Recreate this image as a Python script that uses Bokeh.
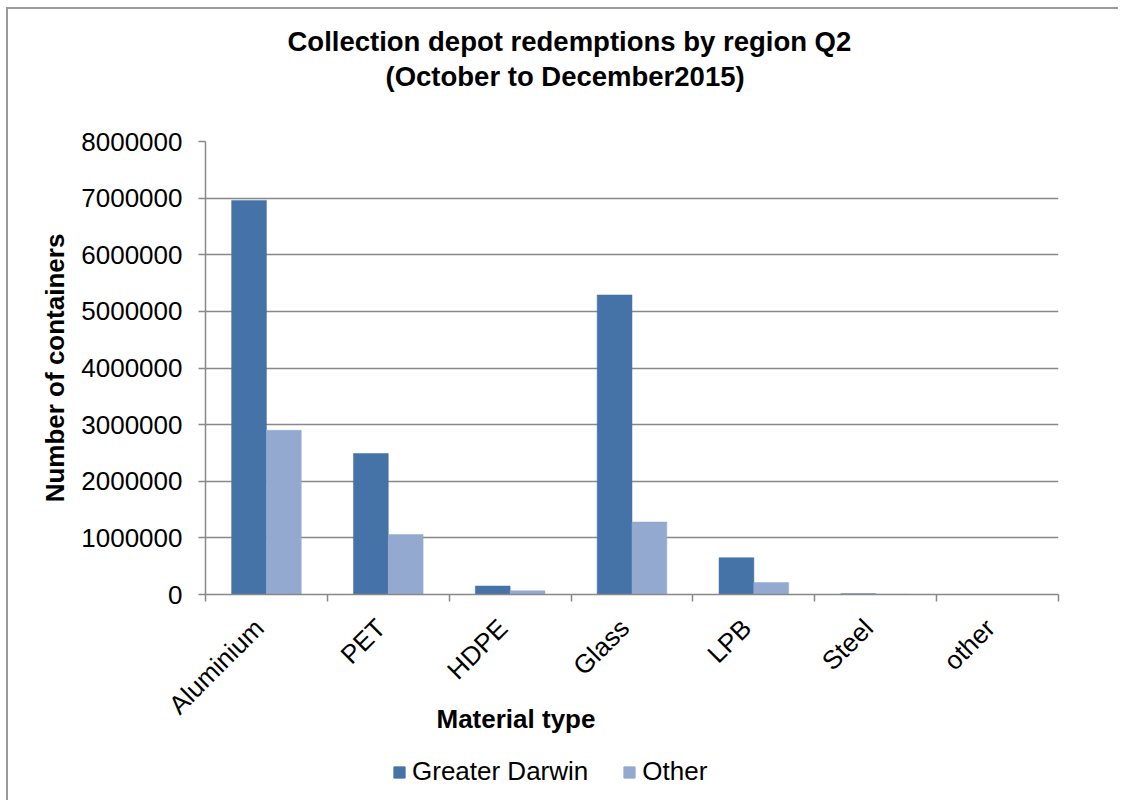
import math
from bokeh.plotting import figure
from bokeh.layouts import column
from bokeh.models import (ColumnDataSource, Range1d, FixedTicker, Title,
                          Legend, LegendItem)
from bokeh.transform import dodge
from bokeh.embed import file_html
from bokeh.resources import INLINE

# ---- data -------------------------------------------------------------
categories = ["Aluminium", "PET", "HDPE", "Glass", "LPB", "Steel", "other"]
greater_darwin = [6960000, 2490000, 150000, 5290000, 650000, 15000, 0]
other_region = [2900000, 1060000, 65000, 1280000, 210000, 4000, 0]
series_names = ["Greater Darwin", "Other"]
y_ticks = [0, 1000000, 2000000, 3000000, 4000000, 5000000, 6000000, 7000000, 8000000]
title_lines = ["Collection depot redemptions by region Q2", "(October to December2015)"]
x_title = "Material type"
y_title = "Number of containers"

# ---- style ------------------------------------------------------------
FONT = "Liberation Sans"
C_GD = "#4572A7"
C_OT = "#93A9CF"
GRID = "#888888"

x_pos = [i + 0.5 for i in range(len(categories))]
label_ticks = [x - 0.06 for x in x_pos]
src = ColumnDataSource(dict(x=x_pos, gd=greater_darwin, ot=other_region))

p = figure(frame_width=853, frame_height=453,
           x_range=Range1d(0, len(categories)), y_range=Range1d(0, y_ticks[-1]),
           output_backend="svg", toolbar_location=None,
           min_border_left=197, min_border_right=60,
           min_border_top=132, min_border_bottom=150)
p.background_fill_color = "white"
p.border_fill_color = "white"
p.outline_line_color = None

bw = 1.0 / 3.5
r1 = p.vbar(x=dodge("x", -bw / 2, range=p.x_range), top="gd", width=bw, source=src,
            fill_color=C_GD, line_color=C_GD, line_width=0.5)
r2 = p.vbar(x=dodge("x", bw / 2, range=p.x_range), top="ot", width=bw, source=src,
            fill_color=C_OT, line_color=C_OT, line_width=0.5)

# x axis: labels near centres, tick marks at category boundaries
xa = p.xaxis[0]
xa.ticker = FixedTicker(ticks=label_ticks, minor_ticks=list(range(len(categories) + 1)))
xa.major_label_overrides = {x: c for x, c in zip(label_ticks, categories)}
xa.major_label_orientation = math.pi / 4
xa.major_tick_line_color = None
xa.major_tick_out = 0
xa.major_tick_in = 0
xa.minor_tick_out = 7
xa.minor_tick_in = 0
xa.minor_tick_line_color = GRID
xa.minor_tick_line_width = 1.5
xa.axis_line_color = GRID
xa.axis_line_width = 1.5
xa.major_label_standoff = 22
xa.major_label_text_font = FONT
xa.major_label_text_font_size = "26px"
xa.major_label_text_color = "black"

ya = p.yaxis[0]
ya.ticker = FixedTicker(ticks=y_ticks)
ya.major_label_overrides = {v: str(v) for v in y_ticks}
ya.major_tick_out = 7
ya.major_tick_in = 0
ya.major_tick_line_color = GRID
ya.major_tick_line_width = 1.5
ya.minor_tick_line_color = None
ya.axis_line_color = GRID
ya.axis_line_width = 1.5
ya.major_label_standoff = 16
ya.major_label_text_font = FONT
ya.major_label_text_font_size = "26px"
ya.major_label_text_color = "black"
ya.axis_label = y_title
ya.axis_label_text_font = FONT
ya.axis_label_text_font_size = "26px"
ya.axis_label_text_font_style = "bold"
ya.axis_label_text_color = "black"
ya.axis_label_standoff = 8

p.xgrid.grid_line_color = None
p.ygrid.ticker = FixedTicker(ticks=y_ticks)
p.ygrid.grid_line_color = GRID
p.ygrid.grid_line_width = 1.5

# chart title: spacer, second line, first line (stacked outward from frame)
p.add_layout(Title(text=" ", standoff=16, text_font=FONT, text_font_size="27px"), "above")
p.add_layout(Title(text=title_lines[1], align="left", offset=180, standoff=4,
                   text_font=FONT, text_font_size="27.5px", text_font_style="bold",
                   text_color="black"), "above")
p.add_layout(Title(text=title_lines[0], align="left", offset=82, standoff=0,
                   text_font=FONT, text_font_size="27.5px", text_font_style="bold",
                   text_color="black"), "above")

# x axis title
p.add_layout(Title(text=x_title, align="left", offset=231, standoff=-60,
                   vertical_align="top",
                   text_font=FONT, text_font_size="26px", text_font_style="bold",
                   text_color="black"), "below")

# legend row (separate strip below the chart, same colours as the bars);
# the proxy bars sit outside the strip's visible range, only their swatches show
lf = figure(width=1110, height=56, x_range=Range1d(0, 1), y_range=Range1d(0, 1),
            output_backend="svg", toolbar_location=None,
            x_axis_location=None, y_axis_location=None, min_border=0)
lf.grid.visible = False
lf.outline_line_color = None
lf.background_fill_color = "white"
lf.border_fill_color = "white"
proxy = ColumnDataSource(dict(x=[-5.0], top=[0.0]))
d1 = lf.vbar(x="x", top="top", width=0.1, source=proxy, fill_color=C_GD, line_color=C_GD)
d2 = lf.vbar(x="x", top="top", width=0.1, source=proxy, fill_color=C_OT, line_color=C_OT)
legend = Legend(items=[LegendItem(label=series_names[0], renderers=[d1]),
                       LegendItem(label=series_names[1], renderers=[d2])],
                location=(187, 13), orientation="horizontal",
                glyph_width=14, glyph_height=14, label_standoff=6, spacing=34,
                padding=0, margin=0, border_line_color=None,
                background_fill_alpha=0,
                label_text_font=FONT, label_text_font_size="26px",
                label_text_color="black")
lf.add_layout(legend)

page = column(p, lf, spacing=0,
              styles={"margin-left": "6px", "margin-top": "7px",
                      "border-left": "2px solid #9a9a9a", "border-top": "2px solid #9a9a9a",
                      "border-right": "none", "border-bottom": "none"})

open("out.html", "w").write(file_html(page, INLINE))
